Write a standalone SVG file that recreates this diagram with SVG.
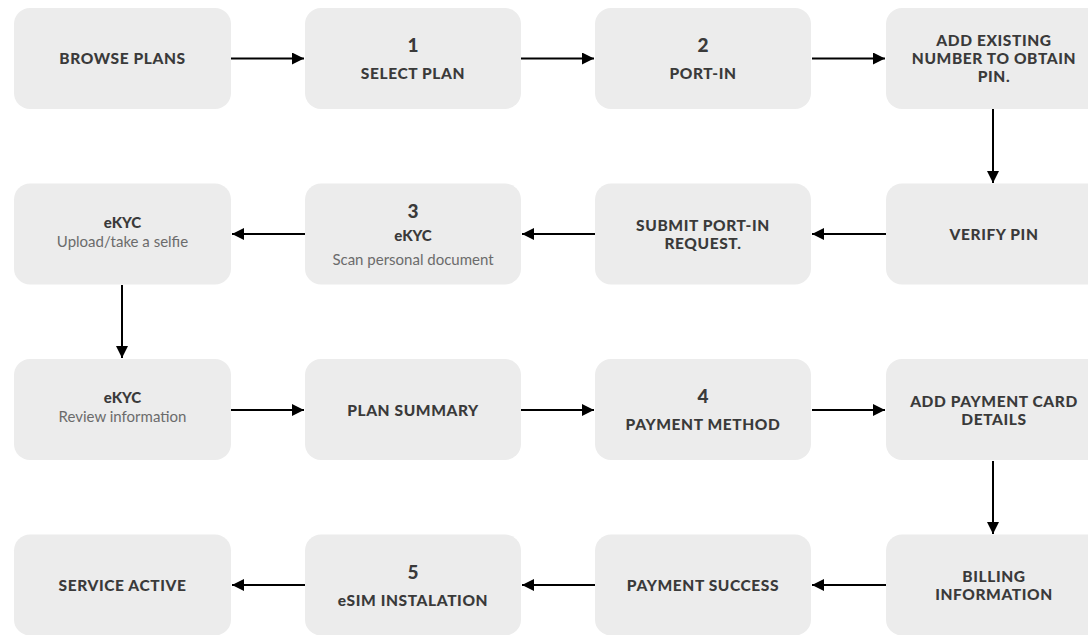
<svg xmlns="http://www.w3.org/2000/svg" width="1088" height="635" viewBox="0 0 1088 635">
<style>
.box{fill:#ececec}
.t{font-family:Lato,"Liberation Sans",sans-serif;font-weight:900;font-size:15.5px;fill:#3a3a3a;text-anchor:middle;letter-spacing:0.6px}
.n{font-family:Lato,"Liberation Sans",sans-serif;font-weight:900;font-size:19px;fill:#3a3a3a;text-anchor:middle}
.e{font-family:Lato,"Liberation Sans",sans-serif;font-weight:900;font-size:15px;fill:#3a3a3a;text-anchor:middle}
.s{font-family:Lato,"Liberation Sans",sans-serif;font-weight:400;font-size:15px;fill:#6b6b6b;text-anchor:middle}
.c{stroke:#000;stroke-width:2;fill:none;marker-end:url(#ah)}
</style>
<defs>
<marker id="ah" viewBox="0 0 10 10" refX="10" refY="5" markerWidth="6" markerHeight="6" orient="auto" markerUnits="strokeWidth">
<path d="M0,0 L10,5 L0,10 Z" fill="#000"/>
</marker>
</defs>
<rect width="1088" height="635" fill="#fff"/>
<g id="connectors">
<line class="c" x1="231" y1="58.5" x2="304" y2="58.5"/>
<line class="c" x1="521" y1="58.5" x2="594" y2="58.5"/>
<line class="c" x1="812" y1="58.5" x2="885" y2="58.5"/>
<line class="c" x1="993" y1="109" x2="993" y2="183"/>
<line class="c" x1="886" y1="234" x2="812" y2="234"/>
<line class="c" x1="595" y1="234" x2="522" y2="234"/>
<line class="c" x1="305" y1="234" x2="232" y2="234"/>
<line class="c" x1="122" y1="285" x2="122" y2="358"/>
<line class="c" x1="231" y1="410" x2="304" y2="410"/>
<line class="c" x1="521" y1="410" x2="594" y2="410"/>
<line class="c" x1="812" y1="410" x2="885" y2="410"/>
<line class="c" x1="993" y1="461" x2="993" y2="534"/>
<line class="c" x1="886" y1="585" x2="812" y2="585"/>
<line class="c" x1="595" y1="585" x2="522" y2="585"/>
<line class="c" x1="305" y1="585" x2="232" y2="585"/>
</g>
<g id="browse-plans"><rect class="box" x="14" y="8" width="217" height="101" rx="16"/><text class="t" x="122.5" y="64">BROWSE PLANS</text></g>
<g id="select-plan"><rect class="box" x="305" y="8" width="216" height="101" rx="16"/><text class="n" x="413" y="52">1</text><text class="t" x="413" y="78.5">SELECT PLAN</text></g>
<g id="port-in"><rect class="box" x="595" y="8" width="216" height="101" rx="16"/><text class="n" x="703" y="52">2</text><text class="t" x="703" y="78.5">PORT-IN</text></g>
<g id="add-existing"><rect class="box" x="886" y="8" width="217" height="101" rx="16"/><text class="t" x="994" y="45.5">ADD EXISTING</text><text class="t" x="994" y="63.5">NUMBER TO OBTAIN</text><text class="t" x="994" y="81.5">PIN.</text></g>
<g id="verify-pin"><rect class="box" x="886" y="183.5" width="217" height="101" rx="16"/><text class="t" x="994" y="240">VERIFY PIN</text></g>
<g id="submit-port-in"><rect class="box" x="595" y="183.5" width="216" height="101" rx="16"/><text class="t" x="703" y="231">SUBMIT PORT-IN</text><text class="t" x="703" y="249">REQUEST.</text></g>
<g id="ekyc-scan"><rect class="box" x="305" y="183.5" width="216" height="101" rx="16"/><text class="n" x="413" y="218">3</text><text class="e" x="413" y="240.5">eKYC</text><text class="s" x="413" y="264.5">Scan personal document</text></g>
<g id="ekyc-selfie"><rect class="box" x="14" y="183.5" width="217" height="101" rx="16"/><text class="e" x="122.5" y="227.5">eKYC</text><text class="s" x="122.5" y="246.5">Upload/take a selfie</text></g>
<g id="ekyc-review"><rect class="box" x="14" y="359" width="217" height="101" rx="16"/><text class="e" x="122.5" y="402.5">eKYC</text><text class="s" x="122.5" y="421.5">Review information</text></g>
<g id="plan-summary"><rect class="box" x="305" y="359" width="216" height="101" rx="16"/><text class="t" x="413" y="415.5">PLAN SUMMARY</text></g>
<g id="payment-method"><rect class="box" x="595" y="359" width="216" height="101" rx="16"/><text class="n" x="703" y="403">4</text><text class="t" x="703" y="429.5">PAYMENT METHOD</text></g>
<g id="add-payment-card"><rect class="box" x="886" y="359" width="217" height="101" rx="16"/><text class="t" x="994" y="406.5">ADD PAYMENT CARD</text><text class="t" x="994" y="424.5">DETAILS</text></g>
<g id="billing-information"><rect class="box" x="886" y="534.5" width="217" height="101" rx="16"/><text class="t" x="994" y="581.5">BILLING</text><text class="t" x="994" y="599.5">INFORMATION</text></g>
<g id="payment-success"><rect class="box" x="595" y="534.5" width="216" height="101" rx="16"/><text class="t" x="703" y="590.5">PAYMENT SUCCESS</text></g>
<g id="esim-installation"><rect class="box" x="305" y="534.5" width="216" height="101" rx="16"/><text class="n" x="413" y="579">5</text><text class="t" x="413" y="605.5">eSIM INSTALATION</text></g>
<g id="service-active"><rect class="box" x="14" y="534.5" width="217" height="101" rx="16"/><text class="t" x="122.5" y="590.5">SERVICE ACTIVE</text></g>
</svg>
